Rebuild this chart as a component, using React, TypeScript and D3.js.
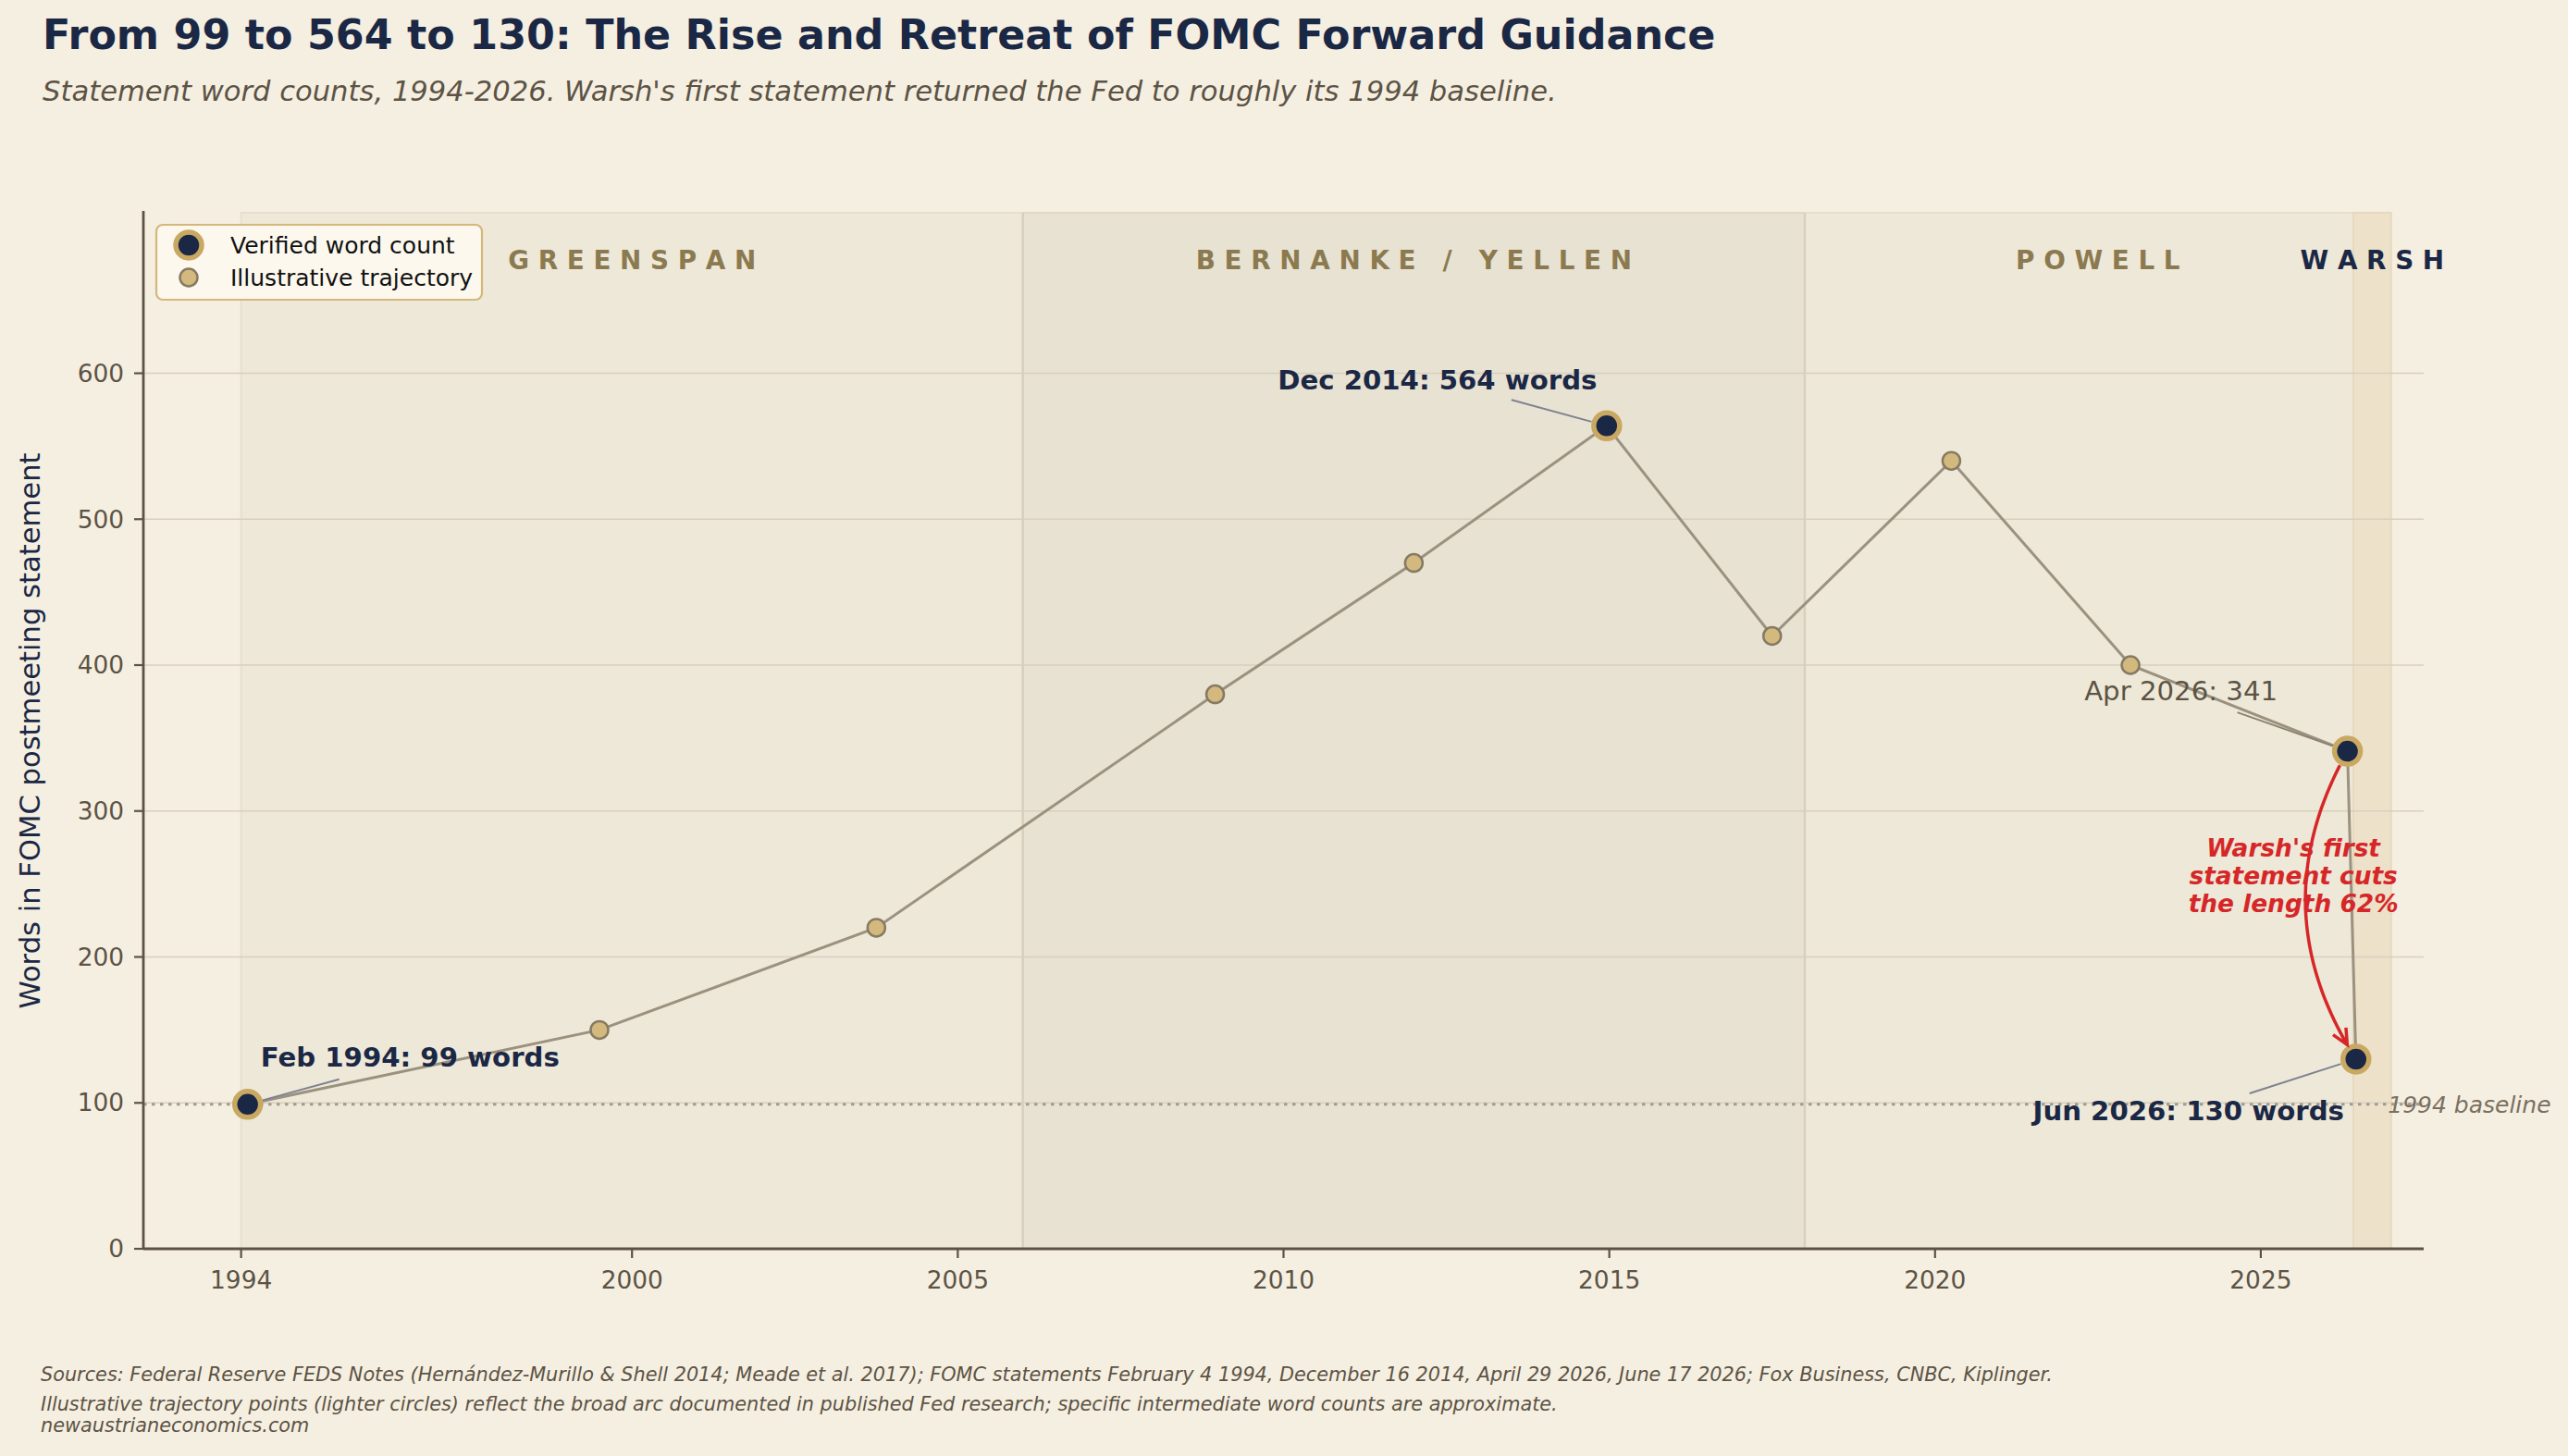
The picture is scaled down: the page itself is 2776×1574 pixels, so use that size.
import React, { useEffect } from 'react';
import * as d3 from 'd3';

// statement word counts (decimal year of the meeting, words)
const pointYears = [1994.1, 1999.5, 2003.75, 2008.95, 2012.0, 2014.96, 2017.5, 2020.25, 2023.0, 2026.33, 2026.46];
const pointWords = [99, 150, 220, 380, 470, 564, 420, 540, 400, 341, 130];
const pointVerified = [true, false, false, false, false, true, false, false, false, true, true];

// chair eras
const eraNames = ['GREENSPAN', 'BERNANKE / YELLEN', 'POWELL', 'WARSH'];
const eraStarts = [1994, 2006, 2018, 2026.42];
const eraEnds = [2006, 2018, 2026.42, 2027];
const eraLabelYears = [2000, 2012, 2022.5, 2026.71];

// callouts on the verified statements
const calloutIndex = [0, 5, 9, 10];
const calloutMonths = ['Feb 1994', 'Dec 2014', 'Apr 2026', 'Jun 2026'];

const xTicks = [1994, 2000, 2005, 2010, 2015, 2020, 2025];
const yTicks = [0, 100, 200, 300, 400, 500, 600];
const baselineWords = 99;

const W = 2776;
const H = 1574;
const FONT = '"DejaVu Sans", sans-serif';
const NAVY = '#1B2845';
const INK = '#5C5345';
const GOLD = '#C9A862';
const RED = '#D62728';

const x = d3.scaleLinear().domain([1992.5, 2027.5]).range([155, 2620]);
const y = d3.scaleLinear().domain([0, 710]).range([1350, 230]);

const eraFill = ['#EEE8D8', '#E8E2D2', '#EEE8D8', '#EDE1CA'];
const eraEdge = ['#E6DFCE', '#E0D8C6', '#E6DFCE', '#E6D9BE'];

// text offsets (px) for each callout, relative to its point
const calloutLayout = [
  { dx: 14, dy: -41, anchor: 'start', lx: 99, ly: -27, bold: true },
  { dx: -183, dy: -39, anchor: 'middle', lx: -103, ly: -28, bold: true },
  { dx: -180, dy: -55, anchor: 'middle', lx: -119, ly: -42, bold: false },
  { dx: -181, dy: 66, anchor: 'middle', lx: -115, ly: 37, bold: true },
];

type Pt = [number, number];

function quad(p0: Pt, c: Pt, p2: Pt, t: number): Pt {
  const u = 1 - t;
  return [
    u * u * p0[0] + 2 * u * t * c[0] + t * t * p2[0],
    u * u * p0[1] + 2 * u * t * c[1] + t * t * p2[1],
  ];
}

// curved arrow (arc3-style) from one point to another, shrunk at both ends
function curvedArrow(a: Pt, b: Pt, rad: number, shrinkA: number, shrinkB: number) {
  const mid: Pt = [(a[0] + b[0]) / 2, (a[1] + b[1]) / 2];
  const dx = b[0] - a[0];
  const dy = b[1] - a[1];
  const c: Pt = [mid[0] - rad * dy, mid[1] + rad * dx];
  const dist = (p: Pt, q: Pt) => Math.hypot(p[0] - q[0], p[1] - q[1]);
  let t0 = 0;
  while (t0 < 0.5 && dist(quad(a, c, b, t0), a) < shrinkA) t0 += 0.001;
  let t1 = 1;
  while (t1 > 0.5 && dist(quad(a, c, b, t1), b) < shrinkB) t1 -= 0.001;
  const pts = d3.range(0, 61).map(i => quad(a, c, b, t0 + (t1 - t0) * i / 60));
  const tip = pts[pts.length - 1];
  const prev = quad(a, c, b, t1 - 0.02);
  const len = dist(tip, prev);
  const ux = (tip[0] - prev[0]) / len;
  const uy = (tip[1] - prev[1]) / len;
  const hl = 17, hw = 8;
  const head = [
    [tip[0] - hl * ux - hw * uy, tip[1] - hl * uy + hw * ux],
    tip,
    [tip[0] - hl * ux + hw * uy, tip[1] - hl * uy - hw * ux],
  ] as Pt[];
  return { body: d3.line()(pts), head: d3.line()(head) };
}

const App = () => {
  useEffect(() => {
    document.body.style.margin = '0';
    document.body.style.background = '#F5EFE1';
  }, []);

  const points = pointYears.map((yr, i) => ({ yr, words: pointWords[i], verified: pointVerified[i] }));
  const trajectory = d3.line<{ yr: number; words: number }>()
    .x(d => x(d.yr))
    .y(d => y(d.words))(points);

  const apr = points[9];
  const jun = points[10];
  const cut = Math.round((1 - jun.words / apr.words) * 100);
  const arrow = curvedArrow([x(apr.yr), y(apr.words)], [x(jun.yr), y(jun.words)], 0.3, 17, 18);

  const spaced = (s: string) => s.split('').join(' ');

  return (
    <svg width={W} height={H} style={{ display: 'block', fontFamily: FONT }}>
      <rect x={0} y={0} width={W} height={H} fill="#F5EFE1" />

      {/* title block */}
      <text x={46} y={53} fontSize={44.4} fontWeight="bold" fill={NAVY}>
        From 99 to 564 to 130: The Rise and Retreat of FOMC Forward Guidance
      </text>
      <text x={46} y={109} fontSize={30.6} fontStyle="italic" fill={INK}>
        Statement word counts, 1994-2026. Warsh's first statement returned the Fed to roughly its 1994 baseline.
      </text>

      {/* era shading */}
      {eraNames.map((name, i) => (
        <rect key={name} x={x(eraStarts[i])} y={y(710)} width={x(eraEnds[i]) - x(eraStarts[i])}
          height={y(0) - y(710)} fill={eraFill[i]} stroke={eraEdge[i]} strokeWidth={2} />
      ))}
      {[2006, 2018].map(yr => (
        <line key={yr} x1={x(yr)} x2={x(yr)} y1={y(710)} y2={y(0)} stroke="#D8D0BE" strokeWidth={2.5} />
      ))}

      {/* horizontal grid */}
      {yTicks.slice(1).map(t => (
        <line key={t} x1={x.range()[0]} x2={x.range()[1]} y1={y(t)} y2={y(t)} stroke="#D8CFBE" strokeWidth={1.6} />
      ))}

      {/* era labels */}
      {eraNames.map((name, i) => (
        <text key={name} x={x(eraLabelYears[i])} y={291} textAnchor="middle" fontSize={27.8} fontWeight="bold"
          fill={name === 'WARSH' ? NAVY : '#8B7A4F'} style={{ whiteSpace: 'pre' }}>
          {spaced(name)}
        </text>
      ))}

      {/* 1994 baseline */}
      <line x1={x.range()[0]} x2={x.range()[1]} y1={y(baselineWords)} y2={y(baselineWords)}
        stroke="#A29B90" strokeWidth={3} strokeDasharray="3.5 5.5" />
      <text x={x(2026.95)} y={y(baselineWords)} dy="0.35em" fontSize={25} fontStyle="italic" fill="#7A7062">
        1994 baseline
      </text>

      {/* trajectory */}
      <path d={trajectory || ''} fill="none" stroke="#9B917F" strokeWidth={3} />

      {/* callout leader lines */}
      {calloutIndex.map((pi, k) => {
        const p = points[pi];
        const L = calloutLayout[k];
        const px = x(p.yr), py = y(p.words);
        const sx = px + L.lx, sy = py + L.ly;
        const d = Math.hypot(px - sx, py - sy);
        const ex = px - (px - sx) * 17 / d, ey = py - (py - sy) * 17 / d;
        return (
          <line key={pi} x1={sx} y1={sy} x2={ex} y2={ey}
            stroke={L.bold ? '#7D8290' : '#8B8272'} strokeWidth={2} />
        );
      })}

      {/* markers */}
      {points.filter(p => !p.verified).map(p => (
        <circle key={p.yr} cx={x(p.yr)} cy={y(p.words)} r={9.5} fill="#D4B97E" stroke="#857A63" strokeWidth={2.5} />
      ))}
      {points.filter(p => p.verified).map(p => (
        <circle key={p.yr} cx={x(p.yr)} cy={y(p.words)} r={14} fill={NAVY} stroke={GOLD} strokeWidth={5.5} />
      ))}

      {/* callout labels */}
      {calloutIndex.map((pi, k) => {
        const p = points[pi];
        const L = calloutLayout[k];
        const label = L.bold ? `${calloutMonths[k]}: ${p.words} words` : `${calloutMonths[k]}: ${p.words}`;
        return (
          <text key={pi} x={x(p.yr) + L.dx} y={y(p.words) + L.dy} textAnchor={L.anchor}
            fontSize={29.2} fontWeight={L.bold ? 'bold' : 'normal'} fill={L.bold ? NAVY : INK}>
            {label}
          </text>
        );
      })}

      {/* Warsh cut arrow */}
      <path d={arrow.body || ''} fill="none" stroke={RED} strokeWidth={3.5} />
      <path d={arrow.head || ''} fill="none" stroke={RED} strokeWidth={3.5} strokeLinejoin="miter" />
      <text x={x(2025.5)} y={y(250)} textAnchor="middle" fontSize={26.4} fontWeight="bold" fontStyle="italic" fill={RED}>
        <tspan x={x(2025.5)} dy={-30}>Warsh's first</tspan>
        <tspan x={x(2025.5)} dy={30}>statement cuts</tspan>
        <tspan x={x(2025.5)} dy={30}>the length {cut}%</tspan>
      </text>

      {/* axes */}
      <line x1={155} x2={155} y1={y(710) - 2} y2={y(0)} stroke={INK} strokeWidth={2.8} />
      <line x1={155} x2={2620} y1={y(0)} y2={y(0)} stroke={INK} strokeWidth={2.8} />
      {yTicks.map(t => (
        <g key={t}>
          <line x1={145} x2={155} y1={y(t)} y2={y(t)} stroke={INK} strokeWidth={2.2} />
          <text x={134} y={y(t)} dy="0.35em" textAnchor="end" fontSize={26.4} fill={INK}>{t}</text>
        </g>
      ))}
      {xTicks.map(t => (
        <g key={t}>
          <line x1={x(t)} x2={x(t)} y1={y(0)} y2={y(0) + 10} stroke={INK} strokeWidth={2.2} />
          <text x={x(t)} y={1393} textAnchor="middle" fontSize={26.4} fill={INK}>{t}</text>
        </g>
      ))}
      <text transform={`translate(43, ${(y(0) + y(710)) / 2}) rotate(-90)`} textAnchor="middle" fontSize={30.6} fill={NAVY}>
        Words in FOMC postmeeting statement
      </text>

      {/* legend */}
      <rect x={169} y={243} width={352} height={81} rx={7} fill="#FCF8EE" stroke="#D4B77A" strokeWidth={2.2} />
      <circle cx={204} cy={265} r={14} fill={NAVY} stroke={GOLD} strokeWidth={5.5} />
      <circle cx={204} cy={300} r={9.5} fill="#D4B97E" stroke="#857A63" strokeWidth={2.5} />
      <text x={249} y={265} dy="0.35em" fontSize={25} fill="#111">Verified word count</text>
      <text x={249} y={300} dy="0.35em" fontSize={25} fill="#111">Illustrative trajectory</text>

      {/* footer */}
      <g fontSize={20.8} fontStyle="italic" fill={INK}>
        <text x={44} y={1493}>
          Sources: Federal Reserve FEDS Notes (Hernández-Murillo &amp; Shell 2014; Meade et al. 2017); FOMC statements February 4 1994, December 16 2014, April 29 2026, June 17 2026; Fox Business, CNBC, Kiplinger.
        </text>
        <text x={44} y={1525}>
          Illustrative trajectory points (lighter circles) reflect the broad arc documented in published Fed research; specific intermediate word counts are approximate.
        </text>
        <text x={44} y={1548}>newaustrianeconomics.com</text>
      </g>
    </svg>
  );
};

export default App;
